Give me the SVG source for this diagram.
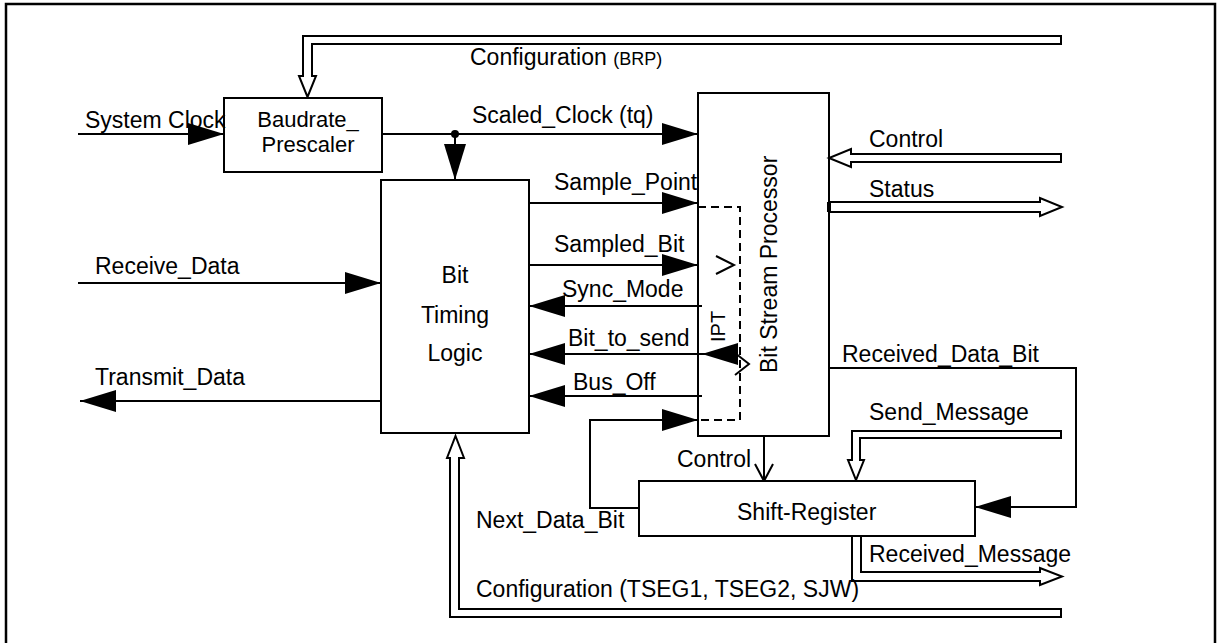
<svg xmlns="http://www.w3.org/2000/svg" width="1221" height="643" viewBox="0 0 1221 643">
<style>
text{font-family:"Liberation Sans",Arial,sans-serif;font-size:23px;fill:#000}
.sm{font-size:18px}
.bp{font-size:22px}
.box{fill:#fff;stroke:#000;stroke-width:2}
.open{fill:none;stroke:#000;stroke-width:2}
.ln{fill:none;stroke:#000;stroke-width:2}
.band{fill:#fff;stroke:#000;stroke-width:2;stroke-linejoin:miter}
.dash{fill:none;stroke:#000;stroke-width:2;stroke-dasharray:8,5}
.mid{text-anchor:middle}
</style>
<defs>
<marker id="fa" markerUnits="userSpaceOnUse" markerWidth="36" markerHeight="22" refX="36" refY="11" orient="auto" overflow="visible">
<path d="M0,0 L36,11 L0,22 Z" fill="#000"/>
</marker>
<marker id="oa" markerUnits="userSpaceOnUse" markerWidth="18" markerHeight="18" refX="17" refY="9" orient="auto" overflow="visible">
<path d="M0,0 L17,9 L0,18" fill="none" stroke="#000" stroke-width="2"/>
</marker>
</defs>
<rect width="1221" height="643" fill="#fff"/>
<path d="M6,643 V4 H1215 V643" fill="none" stroke="#000" stroke-width="2.5"/>

<g id="connectors">
<path class="band" d="M1061,36 H303 V76 H299 L307.5,97 L316,76 H312 V44 H1061 Z"/>
<path class="ln" d="M78,134 H224" marker-end="url(#fa)"/>
<path class="ln" d="M382,134 H698" marker-end="url(#fa)"/>
<circle cx="455" cy="134" r="4" fill="#000"/>
<path class="ln" d="M455,134 V180" marker-end="url(#fa)"/>
<path class="ln" d="M78,283 H381" marker-end="url(#fa)"/>
<path class="ln" d="M381,401 H80" marker-end="url(#fa)"/>
<path class="ln" d="M529,203 H698" marker-end="url(#fa)"/>
<path class="ln" d="M529,265 H698" marker-end="url(#fa)"/>
<path class="ln" d="M702,306 H529" marker-end="url(#fa)"/>
<path class="ln" d="M702,354 H529" marker-end="url(#fa)"/>
<path class="ln" d="M702,396 H529" marker-end="url(#fa)"/>
<path class="ln" d="M733,354 H702" marker-end="url(#fa)"/>
<path class="ln" d="M639,508 H590 V420 H698" marker-end="url(#fa)"/>
<path class="ln" d="M716,256 L734,265 L716,274"/>
<path class="ln" d="M735,353 L749,364 L735,375"/>
<path class="band" d="M1061,154 H851 V149 L829,158 L851,167 V162 H1061 Z"/>
<path class="band" d="M829,202 H1040 V198 L1062,207 L1040,216 V212 H829 Z"/>
<rect x="827" y="202" width="4" height="10" fill="#000"/>
<path class="ln" d="M829,368 H1076 V507 H975" marker-end="url(#fa)"/>
<path class="band" d="M1061,431 H852 V460 H848 L856,480 L864,460 H860 V438 H1061 Z"/>
<path class="ln" d="M764,436 V481" marker-end="url(#oa)"/>
<path class="band" d="M852,536 V581 H1040 V585 L1062,576.5 L1040,568 V572 H861 V536 Z"/>
<path class="band" d="M1061,609 H459 V458 H464 L455.5,436 L447,458 H450 V617 H1061 Z"/>
</g>

<g id="baudrate_prescaler">
<rect class="box" x="224" y="98" width="158" height="74"/>
<text class="mid bp" x="308" y="127">Baudrate_</text>
<text class="mid bp" x="308" y="152">Prescaler</text>
</g>

<g id="bit_timing_logic">
<rect class="box" x="381" y="180" width="148" height="253"/>
<text class="mid" x="455" y="283">Bit</text>
<text class="mid" x="455" y="323">Timing</text>
<text class="mid" x="455" y="361">Logic</text>
</g>

<g id="bit_stream_processor">
<rect class="open" x="698" y="93" width="131" height="343"/>
<text transform="translate(777,373) rotate(-90)">Bit Stream Processor</text>
</g>

<g id="ipt">
<path class="dash" d="M698,207 H740 V420 H698"/>
<text transform="translate(725,342) rotate(-90)" style="font-size:20px">IPT</text>
</g>

<g id="shift_register">
<rect class="box" x="639" y="481" width="336" height="55"/>
<text x="737" y="520">Shift-Register</text>
</g>

<g id="labels">
<text x="85" y="128">System Clock</text>
<text x="470" y="65">Configuration <tspan class="sm">(BRP)</tspan></text>
<text x="472" y="123">Scaled_Clock (tq)</text>
<text x="554" y="190">Sample_Point</text>
<text x="554" y="252">Sampled_Bit</text>
<text x="562" y="297">Sync_Mode</text>
<text x="568" y="346">Bit_to_send</text>
<text x="573" y="390">Bus_Off</text>
<text x="95" y="274">Receive_Data</text>
<text x="95" y="385">Transmit_Data</text>
<text x="869" y="147">Control</text>
<text x="869" y="197">Status</text>
<text x="842" y="362">Received_Data_Bit</text>
<text x="869" y="420">Send_Message</text>
<text x="677" y="467">Control</text>
<text x="476" y="528">Next_Data_Bit</text>
<text x="869" y="562">Received_Message</text>
<text x="476" y="597">Configuration (TSEG1, TSEG2, SJW)</text>
</g>
</svg>
